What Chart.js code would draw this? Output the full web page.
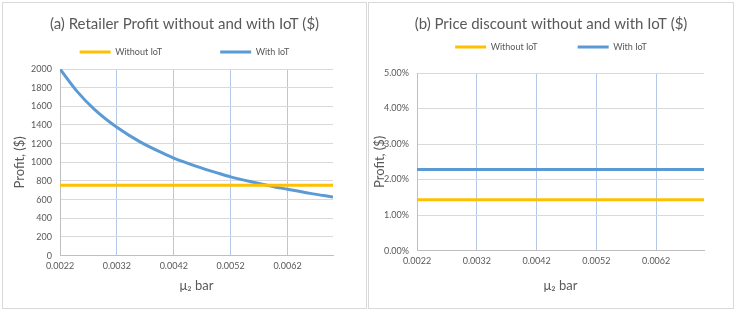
<!DOCTYPE html>
<html>
<head>
<meta charset="utf-8">
<script src="https://cdn.jsdelivr.net/npm/chart.js@4"></script>
<style>
    body { margin: 0; background: #fff; }
    .panel { position: absolute; top: 2px; height: 305px; border: 1px solid #d9d9d9; background: #fff; }
    #left { left: 2px; width: 363px; }
    #right { left: 368px; width: 364px; }
    canvas { display: block; }
</style>
</head>
<body>
<div class="panel" id="left"><canvas id="profitChart" width="363" height="305"></canvas></div>
<div class="panel" id="right"><canvas id="discountChart" width="364" height="305"></canvas></div>
<script>
// x values (mu2 bar)
const xTicks = [0.0022, 0.0032, 0.0042, 0.0052, 0.0062];
const profitX = [0.0022, 0.0025, 0.0028, 0.0032, 0.0036, 0.0040, 0.0042, 0.0046, 0.0050, 0.0052, 0.0056, 0.0060, 0.0062, 0.0066, 0.0070];
const profitWithIoT = [2000, 1760, 1570, 1375, 1222, 1100, 1045, 957, 880, 844, 786, 733, 712, 667, 628];
const profitWithoutIoT = [755, 755, 755, 755, 755, 755, 755, 755, 755, 755, 755, 755, 755, 755, 755];

// price discount, in %
const discountX = [0.0022, 0.0070];
const discountWithoutIoT = [1.43, 1.43];
const discountWithIoT = [2.28, 2.28];

const yellow = '#FFC000';
const blue = '#5B9BD5';
const textGray = '#595959';
const fontFamily = 'Lato, "Open Sans", sans-serif';

function points(xs, ys) {
    return xs.map((x, i) => ({ x: x, y: ys[i] }));
}

// empty layout boxes: gap under the legend and right of the plot
function spacer(topGap, rightGap) {
    return {
        id: 'spacer',
        beforeInit(chart) {
            [['top', topGap], ['right', rightGap]].forEach(([position, size]) => {
                Chart.layouts.addBox(chart, {
                    position: position,
                    weight: 500,
                    fullSize: false,
                    options: {},
                    isHorizontal() { return position === 'top'; },
                    update(maxWidth, maxHeight) {
                        this.width = position === 'top' ? maxWidth : size;
                        this.height = position === 'top' ? size : maxHeight;
                    },
                    draw() {}
                });
            });
        }
    };
}

function makeChart(id, opts) {
    const ctx = document.getElementById(id).getContext('2d');
    return new Chart(ctx, {
        type: 'line',
        data: {
            datasets: [{
                label: 'Without IoT',
                data: opts.without,
                borderColor: yellow,
                backgroundColor: yellow,
                borderWidth: 3,
                pointRadius: 0,
                tension: 0
            }, {
                label: 'With IoT',
                data: opts.withIoT,
                borderColor: blue,
                backgroundColor: blue,
                borderWidth: 3,
                pointRadius: 0,
                cubicInterpolationMode: 'monotone'
            }]
        },
        plugins: [spacer(opts.topGap, opts.rightGap)],
        options: {
            responsive: false,
            animation: false,
            devicePixelRatio: 1,
            layout: { padding: { left: 0, right: 0, top: 0, bottom: 14 } },
            plugins: {
                title: { display: false },
                legend: {
                    // chart title sits in the legend title so the legend gap can stay wide
                    title: {
                        display: true,
                        text: opts.title,
                        color: textGray,
                        font: { family: fontFamily, size: 15, weight: 'normal' },
                        padding: { top: 13.5, bottom: opts.titleBottom }
                    },
                    labels: {
                        usePointStyle: true,
                        pointStyle: 'line',
                        pointStyleWidth: 31,
                        boxHeight: 3,
                        color: textGray,
                        font: { family: fontFamily, size: 9 },
                        padding: opts.legendGap
                    }
                },
                tooltip: { enabled: false }
            },
            scales: {
                x: {
                    type: 'linear',
                    min: 0.0022,
                    max: 0.0070,
                    afterBuildTicks: axis => {
                        axis.ticks = xTicks.map(v => ({ value: v }));
                    },
                    ticks: {
                        color: textGray,
                        font: { family: fontFamily, size: 9 },
                        padding: 5,
                        maxRotation: 0,
                        callback: v => v.toFixed(4)
                    },
                    grid: {
                        drawTicks: false,
                        color: c => (c.tick && c.tick.value === xTicks[0]) ? 'rgba(0,0,0,0)' : '#b4c7e7'
                    },
                    border: { color: '#bfbfbf' },
                    title: {
                        display: true,
                        text: 'μ₂ bar',
                        color: textGray,
                        font: { family: fontFamily, size: 13 },
                        padding: { top: opts.xTitleTop, bottom: 0 }
                    }
                },
                y: {
                    min: 0,
                    max: opts.yMax,
                    afterFit: scale => { scale.width = opts.yWidth; },
                    ticks: {
                        stepSize: opts.yStep,
                        autoSkip: false,
                        color: textGray,
                        font: { family: fontFamily, size: 9 },
                        padding: 8,
                        callback: opts.yFormat
                    },
                    grid: { drawTicks: false, color: '#d9d9d9' },
                    border: { color: '#bfbfbf' },
                    title: {
                        display: true,
                        text: 'Profit, ($)',
                        color: textGray,
                        font: { family: fontFamily, size: 13 },
                        padding: { top: opts.yTitleLeft, bottom: 0 }
                    }
                }
            }
        }
    });
}

makeChart('profitChart', {
    title: '(a) Retailer Profit without and with IoT ($)',
    without: points(profitX, profitWithoutIoT),
    withIoT: points(profitX, profitWithIoT),
    yMax: 2000,
    yStep: 200,
    yFormat: v => v,
    yWidth: 57,
    yTitleLeft: 9,
    xTitleTop: 2,
    legendGap: 58,
    titleBottom: -45,
    topGap: 2.5,
    rightGap: 33
});

makeChart('discountChart', {
    title: '(b) Price discount without and with IoT ($)',
    without: points(discountX, discountWithoutIoT),
    withIoT: points(discountX, discountWithIoT),
    yMax: 5,
    yStep: 1,
    yFormat: v => v.toFixed(2) + '%',
    yWidth: 48,
    yTitleLeft: 3,
    xTitleTop: 7,
    legendGap: 40,
    titleBottom: -32,
    topGap: 11.5,
    rightGap: 29
});
</script>
</body>
</html>
